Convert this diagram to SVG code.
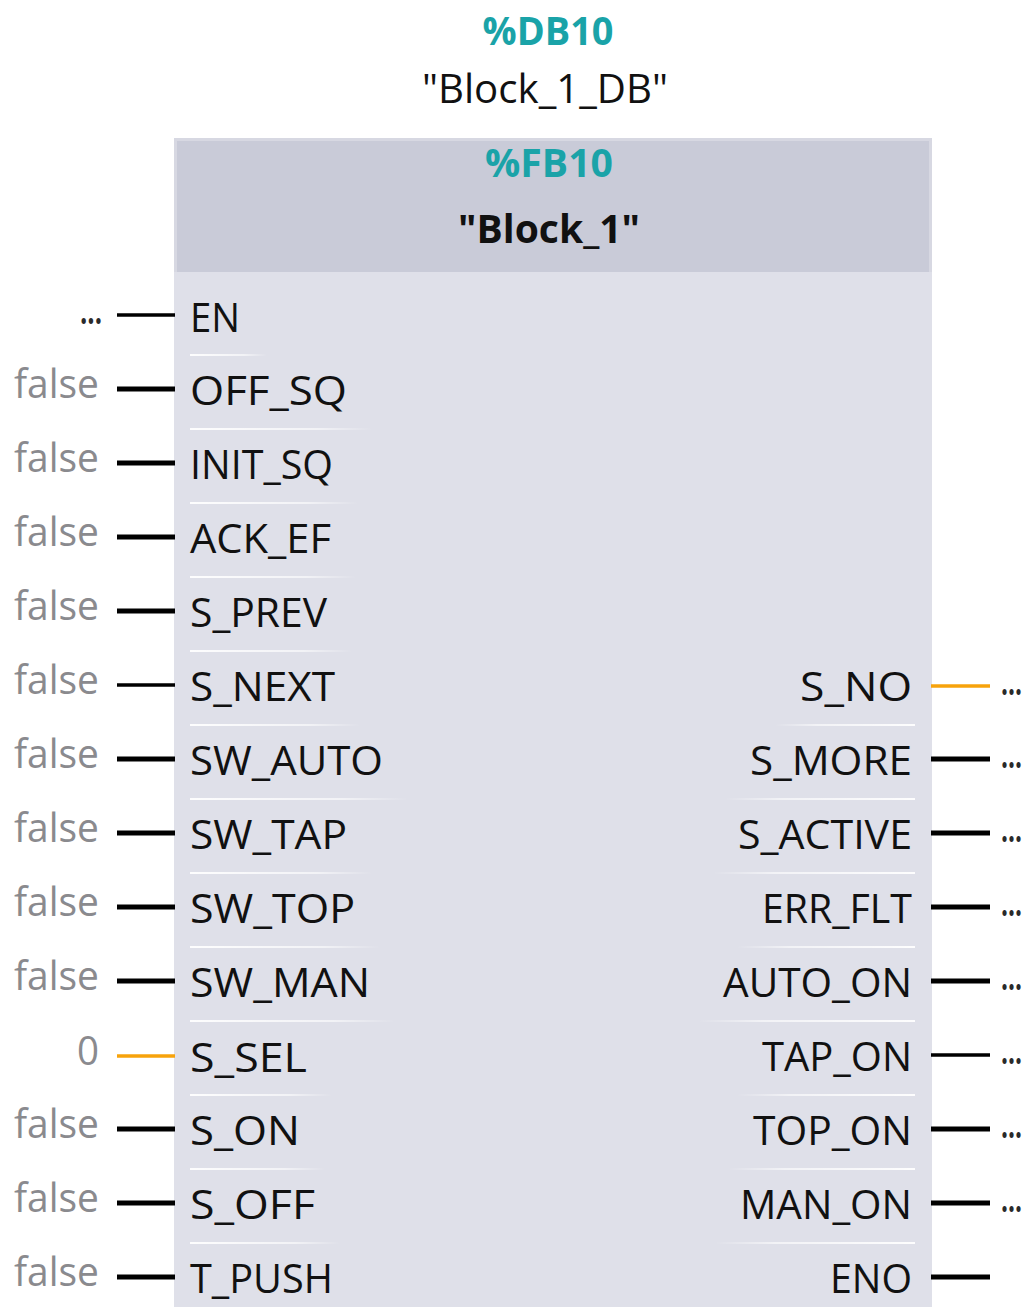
<svg xmlns="http://www.w3.org/2000/svg" width="1030" height="1307" viewBox="0 0 1030 1307">
  <defs>
    <linearGradient id="sepL" x1="0" y1="0" x2="1" y2="0">
      <stop offset="0" stop-color="#ffffff" stop-opacity="0.95"/>
      <stop offset="0.7" stop-color="#ffffff" stop-opacity="0.6"/>
      <stop offset="1" stop-color="#ffffff" stop-opacity="0"/>
    </linearGradient>
    <linearGradient id="sepR" x1="1" y1="0" x2="0" y2="0">
      <stop offset="0" stop-color="#ffffff" stop-opacity="0.95"/>
      <stop offset="0.7" stop-color="#ffffff" stop-opacity="0.6"/>
      <stop offset="1" stop-color="#ffffff" stop-opacity="0"/>
    </linearGradient>
  </defs>
  <style>
    text { font-family: "Open Sans", "Noto Sans", "Liberation Sans", sans-serif; }
    .addr { font-size: 39px; font-weight: bold; fill: #1aa3a8; text-anchor: middle; }
    .inst { font-size: 40px; fill: #111111; text-anchor: middle; }
    .name { font-size: 40px; font-weight: bold; fill: #111111; text-anchor: middle; }
    .pin  { font-size: 40px; fill: #111111; }
    .pinR { font-size: 40px; fill: #111111; text-anchor: end; }
    .val  { font-size: 41px; fill: #8a8a8e; text-anchor: end; }
    .dots { font-size: 36px; font-weight: bold; fill: #2a2a2a; }
    .w    { stroke: #000000; stroke-width: 5; }
    .wt   { stroke: #000000; stroke-width: 3.5; }
    .wo   { stroke: #f7a30c; stroke-width: 3.5; }
  </style>

  <!-- instance data block label -->
  <g id="instance-db">
    <text class="addr" x="548" y="45" textLength="131" lengthAdjust="spacingAndGlyphs">%DB10</text>
    <text class="inst" x="545" y="103" textLength="246" lengthAdjust="spacingAndGlyphs">"Block_1_DB"</text>
  </g>

  <!-- function block body and header -->
  <g id="block">
    <rect x="174" y="138" width="758" height="1169" fill="#dfe0e9"/>
    <rect x="174" y="138" width="758" height="134" fill="#d7d8e2"/>
    <rect x="177" y="141" width="752" height="131" fill="#c9cbd8"/>
    <text class="addr" x="549" y="177" textLength="128" lengthAdjust="spacingAndGlyphs">%FB10</text>
    <text class="name" x="549" y="243" textLength="182" lengthAdjust="spacingAndGlyphs">"Block_1"</text>
  </g>

  <!-- row separators -->
  <g id="separators">
    <rect x="190" y="354" width="77" height="2" fill="url(#sepL)"/>
    <rect x="190" y="428" width="182" height="2" fill="url(#sepL)"/>
    <rect x="190" y="502" width="168" height="2" fill="url(#sepL)"/>
    <rect x="190" y="576" width="166" height="2" fill="url(#sepL)"/>
    <rect x="190" y="650" width="162" height="2" fill="url(#sepL)"/>
    <rect x="190" y="724" width="170" height="2" fill="url(#sepL)"/>
    <rect x="190" y="798" width="218" height="2" fill="url(#sepL)"/>
    <rect x="190" y="872" width="182" height="2" fill="url(#sepL)"/>
    <rect x="190" y="946" width="190" height="2" fill="url(#sepL)"/>
    <rect x="190" y="1020" width="205" height="2" fill="url(#sepL)"/>
    <rect x="190" y="1094" width="142" height="2" fill="url(#sepL)"/>
    <rect x="190" y="1168" width="135" height="2" fill="url(#sepL)"/>
    <rect x="190" y="1242" width="150" height="2" fill="url(#sepL)"/>

    <rect x="775" y="724" width="140" height="2" fill="url(#sepR)"/>
    <rect x="725" y="798" width="190" height="2" fill="url(#sepR)"/>
    <rect x="713" y="872" width="202" height="2" fill="url(#sepR)"/>
    <rect x="737" y="946" width="178" height="2" fill="url(#sepR)"/>
    <rect x="698" y="1020" width="217" height="2" fill="url(#sepR)"/>
    <rect x="737" y="1094" width="178" height="2" fill="url(#sepR)"/>
    <rect x="728" y="1168" width="187" height="2" fill="url(#sepR)"/>
    <rect x="715" y="1242" width="200" height="2" fill="url(#sepR)"/>
  </g>

  <!-- pin wires -->
  <g id="wires">
    <line class="wt" x1="117" y1="315" x2="175" y2="315"/>
    <line class="w" x1="117" y1="389" x2="175" y2="389"/>
    <line class="w" x1="117" y1="463" x2="175" y2="463"/>
    <line class="w" x1="117" y1="537" x2="175" y2="537"/>
    <line class="w" x1="117" y1="611" x2="175" y2="611"/>
    <line class="wt" x1="117" y1="685" x2="175" y2="685"/>
    <line class="w" x1="117" y1="759" x2="175" y2="759"/>
    <line class="w" x1="117" y1="833" x2="175" y2="833"/>
    <line class="w" x1="117" y1="907" x2="175" y2="907"/>
    <line class="w" x1="117" y1="981" x2="175" y2="981"/>
    <line class="wo" x1="117" y1="1056" x2="175" y2="1056"/>
    <line class="w" x1="117" y1="1129" x2="175" y2="1129"/>
    <line class="w" x1="117" y1="1203" x2="175" y2="1203"/>
    <line class="w" x1="117" y1="1277" x2="175" y2="1277"/>

    <line class="wo" x1="931" y1="686" x2="990" y2="686"/>
    <line class="w" x1="931" y1="759" x2="990" y2="759"/>
    <line class="w" x1="931" y1="833" x2="990" y2="833"/>
    <line class="w" x1="931" y1="907" x2="990" y2="907"/>
    <line class="w" x1="931" y1="981" x2="990" y2="981"/>
    <line class="wt" x1="931" y1="1055" x2="990" y2="1055"/>
    <line class="w" x1="931" y1="1129" x2="990" y2="1129"/>
    <line class="w" x1="931" y1="1203" x2="990" y2="1203"/>
    <line class="w" x1="931" y1="1277" x2="990" y2="1277"/>
  </g>

  <!-- input pins -->
  <g id="pin-EN">
    <text class="dots" x="80" y="324" textLength="22" lengthAdjust="spacingAndGlyphs">...</text>
    <text class="pin" x="190" y="332" textLength="50" lengthAdjust="spacingAndGlyphs">EN</text>
  </g>
  <g id="pin-OFF_SQ">
    <text class="val" x="99" y="398" textLength="85" lengthAdjust="spacingAndGlyphs">false</text>
    <text class="pin" x="190" y="405" textLength="157" lengthAdjust="spacingAndGlyphs">OFF_SQ</text>
  </g>
  <g id="pin-INIT_SQ">
    <text class="val" x="99" y="472" textLength="85" lengthAdjust="spacingAndGlyphs">false</text>
    <text class="pin" x="190" y="479" textLength="143" lengthAdjust="spacingAndGlyphs">INIT_SQ</text>
  </g>
  <g id="pin-ACK_EF">
    <text class="val" x="99" y="546" textLength="85" lengthAdjust="spacingAndGlyphs">false</text>
    <text class="pin" x="190" y="553" textLength="141" lengthAdjust="spacingAndGlyphs">ACK_EF</text>
  </g>
  <g id="pin-S_PREV">
    <text class="val" x="99" y="620" textLength="85" lengthAdjust="spacingAndGlyphs">false</text>
    <text class="pin" x="190" y="627" textLength="137" lengthAdjust="spacingAndGlyphs">S_PREV</text>
  </g>
  <g id="pin-S_NEXT">
    <text class="val" x="99" y="694" textLength="85" lengthAdjust="spacingAndGlyphs">false</text>
    <text class="pin" x="190" y="701" textLength="145" lengthAdjust="spacingAndGlyphs">S_NEXT</text>
  </g>
  <g id="pin-SW_AUTO">
    <text class="val" x="99" y="768" textLength="85" lengthAdjust="spacingAndGlyphs">false</text>
    <text class="pin" x="190" y="775" textLength="193" lengthAdjust="spacingAndGlyphs">SW_AUTO</text>
  </g>
  <g id="pin-SW_TAP">
    <text class="val" x="99" y="842" textLength="85" lengthAdjust="spacingAndGlyphs">false</text>
    <text class="pin" x="190" y="849" textLength="157" lengthAdjust="spacingAndGlyphs">SW_TAP</text>
  </g>
  <g id="pin-SW_TOP">
    <text class="val" x="99" y="916" textLength="85" lengthAdjust="spacingAndGlyphs">false</text>
    <text class="pin" x="190" y="923" textLength="165" lengthAdjust="spacingAndGlyphs">SW_TOP</text>
  </g>
  <g id="pin-SW_MAN">
    <text class="val" x="99" y="990" textLength="85" lengthAdjust="spacingAndGlyphs">false</text>
    <text class="pin" x="190" y="997" textLength="180" lengthAdjust="spacingAndGlyphs">SW_MAN</text>
  </g>
  <g id="pin-S_SEL">
    <text class="val" x="99" y="1065" textLength="22" lengthAdjust="spacingAndGlyphs">0</text>
    <text class="pin" x="190" y="1072" textLength="117" lengthAdjust="spacingAndGlyphs">S_SEL</text>
  </g>
  <g id="pin-S_ON">
    <text class="val" x="99" y="1138" textLength="85" lengthAdjust="spacingAndGlyphs">false</text>
    <text class="pin" x="190" y="1145" textLength="110" lengthAdjust="spacingAndGlyphs">S_ON</text>
  </g>
  <g id="pin-S_OFF">
    <text class="val" x="99" y="1212" textLength="85" lengthAdjust="spacingAndGlyphs">false</text>
    <text class="pin" x="190" y="1219" textLength="125" lengthAdjust="spacingAndGlyphs">S_OFF</text>
  </g>
  <g id="pin-T_PUSH">
    <text class="val" x="99" y="1286" textLength="85" lengthAdjust="spacingAndGlyphs">false</text>
    <text class="pin" x="190" y="1293" textLength="143" lengthAdjust="spacingAndGlyphs">T_PUSH</text>
  </g>

  <!-- output pins -->
  <g id="pin-S_NO">
    <text class="pinR" x="912" y="701" textLength="112" lengthAdjust="spacingAndGlyphs">S_NO</text>
    <text class="dots" x="1001" y="695" textLength="21" lengthAdjust="spacingAndGlyphs">...</text>
  </g>
  <g id="pin-S_MORE">
    <text class="pinR" x="912" y="775" textLength="162" lengthAdjust="spacingAndGlyphs">S_MORE</text>
    <text class="dots" x="1001" y="768" textLength="21" lengthAdjust="spacingAndGlyphs">...</text>
  </g>
  <g id="pin-S_ACTIVE">
    <text class="pinR" x="912" y="849" textLength="174" lengthAdjust="spacingAndGlyphs">S_ACTIVE</text>
    <text class="dots" x="1001" y="842" textLength="21" lengthAdjust="spacingAndGlyphs">...</text>
  </g>
  <g id="pin-ERR_FLT">
    <text class="pinR" x="912" y="923" textLength="150" lengthAdjust="spacingAndGlyphs">ERR_FLT</text>
    <text class="dots" x="1001" y="916" textLength="21" lengthAdjust="spacingAndGlyphs">...</text>
  </g>
  <g id="pin-AUTO_ON">
    <text class="pinR" x="912" y="997" textLength="189" lengthAdjust="spacingAndGlyphs">AUTO_ON</text>
    <text class="dots" x="1001" y="990" textLength="21" lengthAdjust="spacingAndGlyphs">...</text>
  </g>
  <g id="pin-TAP_ON">
    <text class="pinR" x="912" y="1071" textLength="150" lengthAdjust="spacingAndGlyphs">TAP_ON</text>
    <text class="dots" x="1001" y="1064" textLength="21" lengthAdjust="spacingAndGlyphs">...</text>
  </g>
  <g id="pin-TOP_ON">
    <text class="pinR" x="912" y="1145" textLength="159" lengthAdjust="spacingAndGlyphs">TOP_ON</text>
    <text class="dots" x="1001" y="1138" textLength="21" lengthAdjust="spacingAndGlyphs">...</text>
  </g>
  <g id="pin-MAN_ON">
    <text class="pinR" x="912" y="1219" textLength="172" lengthAdjust="spacingAndGlyphs">MAN_ON</text>
    <text class="dots" x="1001" y="1212" textLength="21" lengthAdjust="spacingAndGlyphs">...</text>
  </g>
  <g id="pin-ENO">
    <text class="pinR" x="912" y="1293" textLength="82" lengthAdjust="spacingAndGlyphs">ENO</text>
  </g>
</svg>
